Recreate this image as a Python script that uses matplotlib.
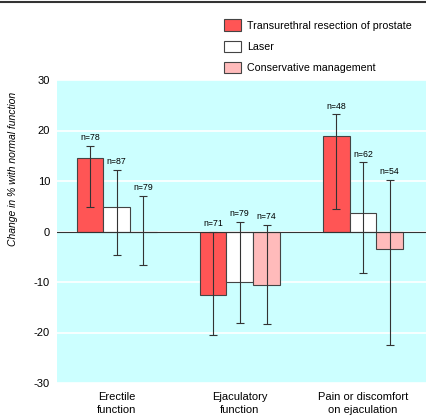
import matplotlib.pyplot as plt
import numpy as np

plt.rcParams['font.family'] = ['Liberation Sans Narrow', 'Liberation Sans', 'DejaVu Sans']

# data
categories = ["Erectile\nfunction", "Ejaculatory\nfunction", "Pain or discomfort\non ejaculation"]
series = ["Transurethral resection of prostate", "Laser", "Conservative management"]
values = [[14.5, -12.5, 19.0],    # TURP
          [4.8, -10.0, 3.6],      # laser
          [0.0, -10.6, -3.4]]     # conservative
lower = [[4.9, -20.5, 4.4],
         [-4.6, -18.2, -8.2],
         [-6.7, -18.3, -22.5]]
upper = [[17.0, 0.0, 23.2],
         [12.2, 1.9, 13.7],
         [7.1, 1.3, 10.2]]
ns = [[78, 71, 48],
      [87, 79, 62],
      [79, 74, 54]]
colors = ["#ff5555", "#ffffff", "#ffbbbb"]

fig = plt.figure(figsize=(4.26, 4.18), dpi=100)
ax = fig.add_axes([57/426, 35/418, 369/426, 303/418])
ax.set_facecolor("#ccffff")

x = np.arange(len(categories))
w = 0.217
for i in range(3):
    pos = x + (i - 1) * w
    v = np.array(values[i])
    lo = v - np.array(lower[i])
    hi = np.array(upper[i]) - v
    ax.bar(pos, v, width=w, color=colors[i], edgecolor="#444444", linewidth=0.8,
           label=series[i], zorder=2)
    ax.errorbar(pos, v, yerr=[lo, hi], fmt="none", ecolor="#333333", elinewidth=0.8,
                capsize=3, capthick=0.8, zorder=3)
    for p, u, n in zip(pos, upper[i], ns[i]):
        ax.text(p, u + 0.7, f"n={n}", ha="center", va="bottom", fontsize=6.3, zorder=4)

ax.axhline(0, color="#333333", linewidth=0.8, zorder=2.5)
ax.set_ylim(-30, 30)
ax.set_xlim(-0.484, 2.512)
ax.set_yticks([-30, -20, -10, 0, 10, 20, 30])
ax.set_yticklabels(["-30", "-20", "-10", "0", "10", "20", "30"], fontsize=8)
ax.yaxis.grid(True, color="white", linewidth=1.2, zorder=0)
ax.set_axisbelow(True)
ax.tick_params(axis="y", length=0, pad=5)
ax.set_xticks(x)
ax.set_xticklabels(categories, fontsize=8, linespacing=1.4)
ax.tick_params(axis="x", length=0, pad=6.5)
for s in ax.spines.values():
    s.set_visible(False)

fig.text(13/426, 1 - 169/418, "Change in % with normal function", rotation=90,
         ha="center", va="center", fontsize=7.5, style="italic")

fig.add_artist(plt.Line2D([0, 1], [1 - 1.5/418, 1 - 1.5/418], color="#333333", linewidth=1.5))

fig.legend(loc="upper left", bbox_to_anchor=(220/426, 1 - 15/418), frameon=False,
           fontsize=7.7, handlelength=1.6, handleheight=1.3, handletextpad=0.55,
           labelspacing=0.9, borderaxespad=0)

fig.savefig("out.png", dpi=100)
